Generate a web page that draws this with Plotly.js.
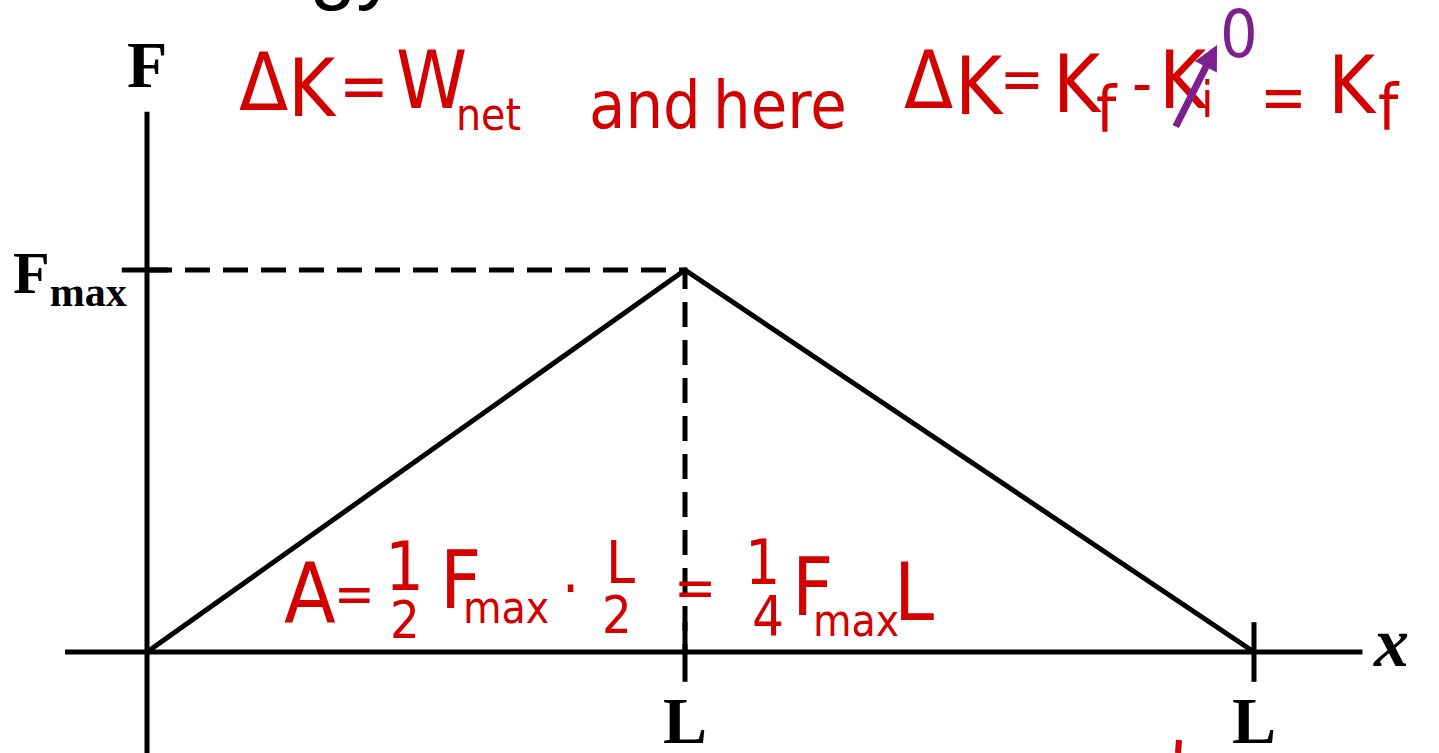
<!DOCTYPE html>
<html>
<head>
<meta charset="utf-8">
<script src="https://cdn.plot.ly/plotly-3.0.1.min.js"></script>
<style>
  html, body { margin: 0; padding: 0; background: #fff; overflow: hidden; }
  #chart { width: 1439px; height: 753px; }
</style>
</head>
<body>
<div id="chart"></div>
<script>
// Force profile F(x): rises linearly to F_max, then falls back to zero at x = L.
// Positions are in units of L, forces in units of F_max.
const positions = [0, 0.486, 1];
const forces = [0, 1, 0];
const peakIndex = 1;

// Extent of the drawn axis lines (same units)
const xAxisSpan = [-0.074, 1.098];
const yAxisSpan = [-0.3, 1.414];

// Tick positions and labels
const xTickValues = [0.486, 1];
const xTickLabels = ['L', 'L'];
const yTickValues = [1];
const yTickLabels = ['F<sub>max</sub>'];

// ---- styling ----
const INK = '#000000';
const PEN_RED = '#d30000';
const PEN_PURPLE = '#7d1f8e';
const SERIF = 'Liberation Serif, Times New Roman, serif';
const HAND = 'DejaVu Sans Condensed, Roboto, sans-serif';
const LINE_W = 5;
const X_TICK_HALF = 0.078;   // in F_max units
const Y_TICK_HALF = 0.019;   // in L units

const W = 1439, H = 753;

// tick segments, separated by nulls
const tickX = [], tickY = [];
xTickValues.forEach(v => { tickX.push(v, v, null); tickY.push(X_TICK_HALF, -X_TICK_HALF, null); });
yTickValues.forEach(v => { tickX.push(-Y_TICK_HALF * 1.2, Y_TICK_HALF, null); tickY.push(v, v, null); });

const traces = [
  // axes
  { x: xAxisSpan, y: [0, 0], mode: 'lines', line: { color: INK, width: LINE_W }, hoverinfo: 'skip' },
  { x: [0, 0], y: yAxisSpan, mode: 'lines', line: { color: INK, width: LINE_W }, hoverinfo: 'skip' },
  // dashed guides to the peak
  { x: [positions[0], positions[peakIndex], positions[peakIndex]],
    y: [forces[peakIndex], forces[peakIndex], 0],
    mode: 'lines', line: { color: INK, width: LINE_W, dash: '25px,13px' }, hoverinfo: 'skip' },
  // ticks
  { x: tickX, y: tickY, mode: 'lines', connectgaps: false, line: { color: INK, width: LINE_W }, hoverinfo: 'skip' },
  // force curve
  { x: positions, y: forces, mode: 'lines', line: { color: INK, width: LINE_W }, hoverinfo: 'skip' }
];

// Handwritten notes: [text, centre x px, centre y px, font size]
const workNote = [
  ['Δ', 263, 82, 80], ['K', 312, 88, 80], ['=', 364, 85, 66], ['W', 432, 80, 80], ['net', 489, 115, 44],
  ['and', 645, 106, 66], ['here', 780, 106, 66],
  ['Δ', 928, 80, 80], ['K', 979, 86, 80], ['=', 1022, 79, 58], ['K', 1077, 84, 80], ['f', 1107, 110, 64],
  ['-', 1142, 83, 62], ['K', 1183, 80, 80], ['i', 1207, 100, 50],
  ['=', 1283, 97, 62], ['K', 1352, 85, 80], ['f', 1389, 108, 64]
];
const zeroNote = ['0', 1239, 35, 66];
const areaNote = [
  ['A', 310, 594, 84], ['=', 354, 593, 54], ['1', 405, 566, 68], ['2', 405, 620, 52],
  ['F', 460, 580, 80], ['max', 506, 607, 44], ['·', 570, 588, 60],
  ['L', 620, 563, 58], ['2', 617, 615, 52], ['=', 695, 587, 56],
  ['1', 762, 562, 62], ['4', 768, 615, 56],
  ['F', 812, 587, 80], ['max', 856, 620, 44], ['L', 914, 592, 80]
];

function glyph(item, color) {
  return {
    xref: 'paper', yref: 'paper', x: item[1] / W, y: 1 - item[2] / H,
    text: item[0], showarrow: false, xanchor: 'center', yanchor: 'middle',
    font: { family: HAND, size: item[3], color: color }
  };
}

const annotations = [];

// axis labels
annotations.push({ x: 0, y: 1.537, xref: 'x', yref: 'y', text: '<b>F</b>', showarrow: false,
  xanchor: 'center', yanchor: 'middle', font: { family: SERIF, size: 66, color: INK } });
yTickValues.forEach((v, i) => annotations.push({ x: -0.016, y: v - 0.02, xref: 'x', yref: 'y',
  text: '<b>' + yTickLabels[i] + '</b>', showarrow: false, xanchor: 'right', yanchor: 'middle',
  font: { family: SERIF, size: 60, color: INK } }));
xTickValues.forEach((v, i) => annotations.push({ x: v, y: -0.18, xref: 'x', yref: 'y',
  text: '<b>' + xTickLabels[i] + '</b>', showarrow: false, xanchor: 'center', yanchor: 'middle',
  font: { family: SERIF, size: 66, color: INK } }));
annotations.push({ x: 1.124, y: 0.025, xref: 'x', yref: 'y', text: '<b><i>x</i></b>', showarrow: false,
  xanchor: 'center', yanchor: 'middle', font: { family: SERIF, size: 70, color: INK } });

// heading running off the top edge
annotations.push({ xref: 'paper', yref: 'paper', x: 130 / W, y: 1 - 14 / H, text: 'Energy', showarrow: false,
  xanchor: 'left', yanchor: 'bottom', font: { family: 'Liberation Sans, Arial, sans-serif', size: 84, color: INK } });

workNote.forEach(g => annotations.push(glyph(g, PEN_RED)));
areaNote.forEach(g => annotations.push(glyph(g, PEN_RED)));
annotations.push(glyph(zeroNote, PEN_PURPLE));

// strike-through arrow on K_i
annotations.push({ xref: 'paper', yref: 'paper', x: 1217 / W, y: 1 - 45 / H, text: '', showarrow: true,
  axref: 'pixel', ayref: 'pixel', ax: -42, ay: 83, arrowhead: 2, arrowsize: 0.7, arrowwidth: 7,
  arrowcolor: PEN_PURPLE });

const layout = {
  width: W, height: H,
  margin: { l: 0, r: 0, t: 0, b: 0 },
  paper_bgcolor: '#ffffff', plot_bgcolor: '#ffffff',
  showlegend: false,
  xaxis: { range: [-0.13279, 1.16712], visible: false, fixedrange: true },
  yaxis: { range: [-0.26440, 1.70681], visible: false, fixedrange: true },
  annotations: annotations,
  shapes: [
    // pen stroke running off the bottom edge
    { type: 'line', xref: 'paper', yref: 'paper', x0: 1179 / W, x1: 1178 / W, y0: 1 - 740 / H, y1: 0,
      line: { color: PEN_RED, width: 6 } }
  ]
};

Plotly.newPlot('chart', traces, layout, { staticPlot: true, displayModeBar: false });
</script>
</body>
</html>
